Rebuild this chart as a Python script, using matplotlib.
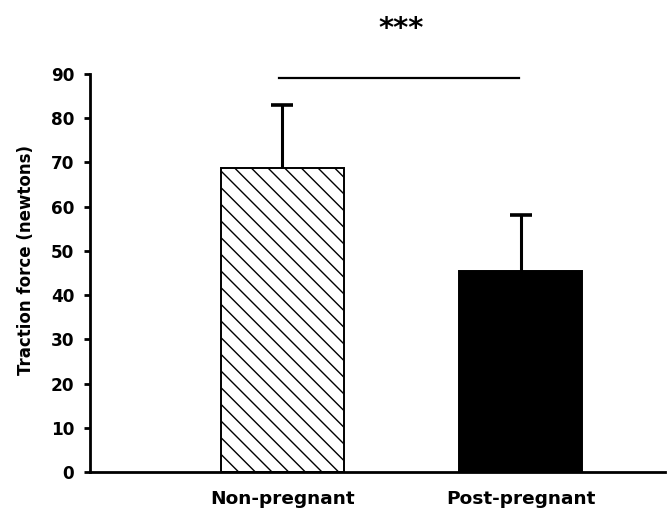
import matplotlib
matplotlib.use("Agg")
import matplotlib.pyplot as plt

plt.rcParams['font.family'] = ['DejaVu Sans']
plt.rcParams['font.weight'] = 'bold'
plt.rcParams['hatch.linewidth'] = 1.0

# data
groups = ['Non-pregnant', 'Post-pregnant']
means = [68.8, 45.5]
sd = [14.3, 12.6]
sig_y = 89.2
sig_text = '***'

fig = plt.figure(figsize=(6.69, 5.12), dpi=100)
ax = fig.add_axes([90/669, 40/512, 575/669, 398/512])

x = [0, 1]
ax.bar(x[0], means[0], width=0.516, color='white', edgecolor='black',
       hatch='\\\\', linewidth=1.4, zorder=2)
ax.bar(x[1], means[1], width=0.516, color='black', edgecolor='black',
       linewidth=1.4, zorder=2)

# upper error bars only
tops = [m + s for m, s in zip(means, sd)]
ax.vlines(x, means, tops, color='black', lw=2.2, zorder=1)
ax.plot(x, tops, ls='none', marker='_', ms=16, mew=2.6, color='black',
        zorder=1)

# significance bar
ax.plot([-0.015, 0.99], [sig_y, sig_y], color='black', lw=1.6, clip_on=False)
ax.text(0.497, 98.3, sig_text, ha='center', va='baseline', fontsize=21,
        fontweight='bold', clip_on=False)

ax.set_ylim(0, 90)
ax.set_xlim(-0.807, 1.604)
ax.set_yticks(range(0, 91, 10))
ax.set_xticks(x)
ax.set_xticklabels(groups, fontsize=13.3, fontweight='bold')
ax.tick_params(axis='y', labelsize=12.2, width=2, length=4.3, pad=7)
ax.tick_params(axis='x', length=0, pad=13)
for lab in ax.get_yticklabels():
    lab.set_fontweight('bold')

ax.spines['top'].set_visible(False)
ax.spines['right'].set_visible(False)
ax.spines['left'].set_linewidth(2)
ax.spines['bottom'].set_linewidth(2)

ax.set_ylabel('Traction force (newtons)', fontsize=12, fontweight='bold')
ax.yaxis.set_label_coords(-0.0955, 0.533)

fig.savefig('out.png', dpi=100)
